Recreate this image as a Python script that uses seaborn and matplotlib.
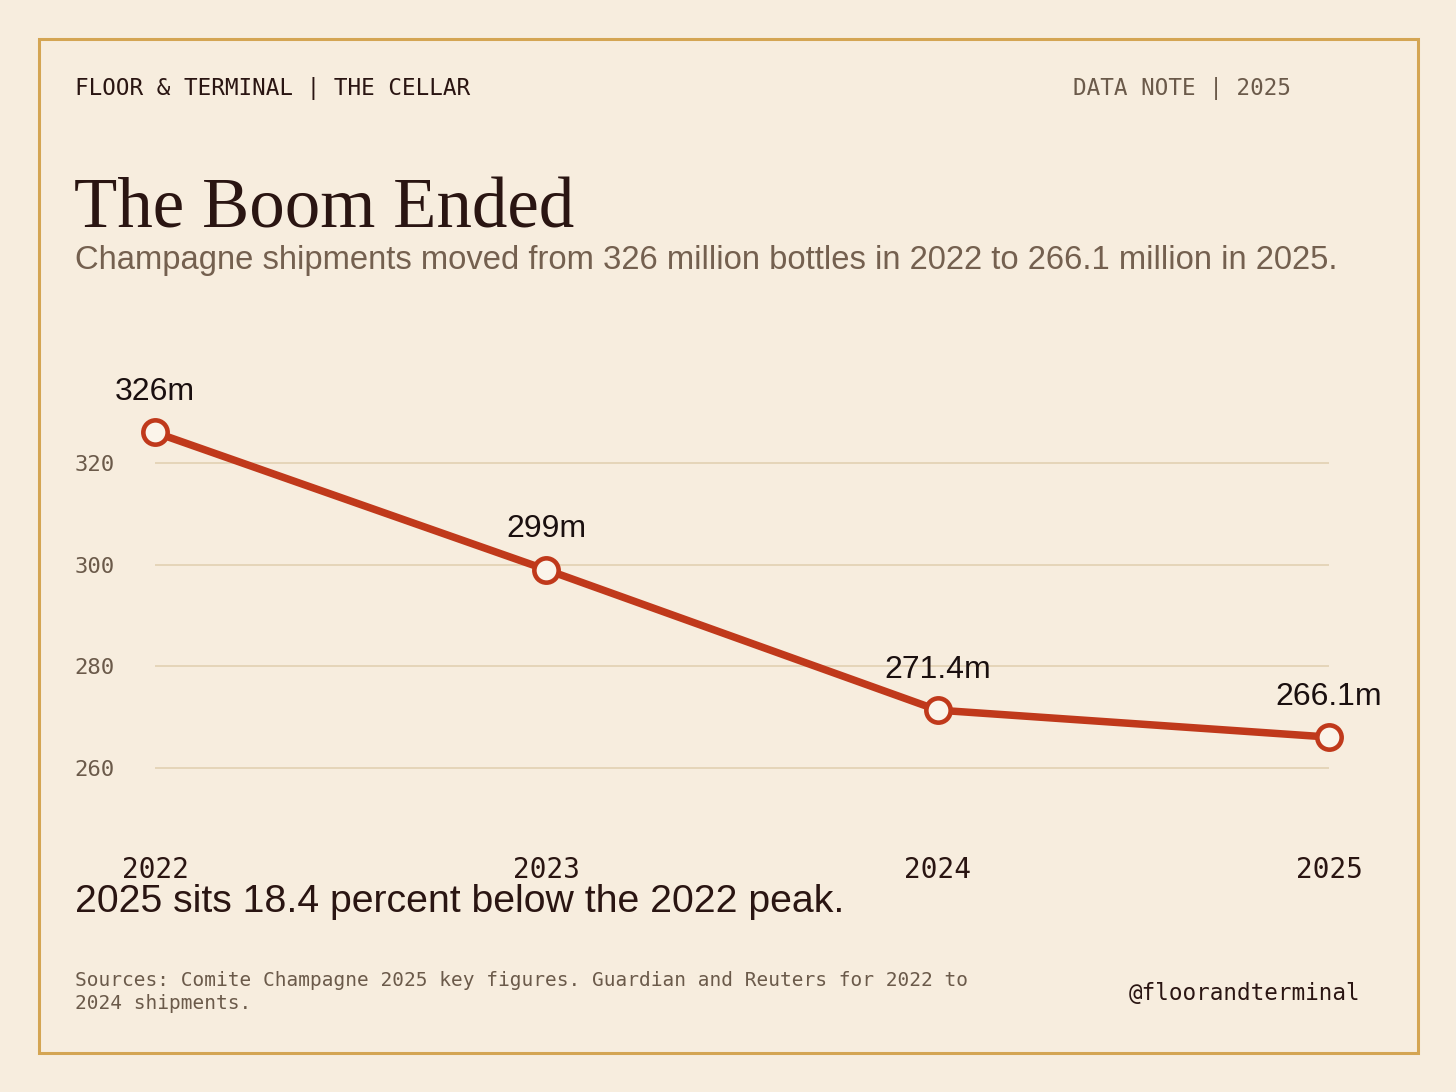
import matplotlib
matplotlib.use("Agg")
import matplotlib.pyplot as plt
import matplotlib.transforms as mtransforms
import seaborn as sns
import pandas as pd
from matplotlib.patches import Rectangle

years = [2022, 2023, 2024, 2025]
shipments = [326.0, 299.0, 271.4, 266.1]
point_labels = ["326m", "299m", "271.4m", "266.1m"]
y_ticks = [260, 280, 300, 320]

BG = "#F7EDDE"
RED = "#C0391B"
INK = "#2A1512"
MUTED = "#6B5A4A"
GRID = "#E4D3B6"
GOLD = "#D4A553"

sns.set_theme(style="white")
plt.rcParams["font.family"] = ["Liberation Sans", "DejaVu Sans"]

W, H = 1456, 1092
fig = plt.figure(figsize=(W / 100, H / 100), dpi=100, facecolor=BG)

def fx(px):
    return px / W

def fy(py):
    return 1 - py / H

# border
fig.patches.append(Rectangle((fx(39), fy(1053)), fx(1418) - fx(39), fy(39) - fy(1053),
                             transform=fig.transFigure, fill=False, edgecolor=GOLD,
                             linewidth=2.2, zorder=0))

# axes
left, right = 155, 1329
top, bottom = 412, 819
ax = fig.add_axes([fx(left), fy(bottom), fx(right) - fx(left), fy(top) - fy(bottom)])
ax.set_facecolor(BG)
df = pd.DataFrame({"year": years, "value": shipments})
sns.lineplot(data=df, x="year", y="value", ax=ax, color=RED, linewidth=5.4,
             marker="o", markersize=17.5, markerfacecolor="#FBF4EA",
             markeredgecolor=RED, markeredgewidth=3.3, clip_on=False, zorder=5)
ax.set_xlim(2022, 2025)
ax.set_ylim(250, 330)
for t in y_ticks:
    ax.axhline(t, color=GRID, linewidth=1.3, zorder=1)
ax.set_yticks(y_ticks)
ax.set_yticklabels([str(t) for t in y_ticks], family="DejaVu Sans Mono", fontsize=16, color=MUTED)
ax.set_xticks(years)
ax.set_xticklabels([str(y) for y in years], family="DejaVu Sans Mono", fontsize=20, color=INK)
shift = mtransforms.ScaledTranslation(-4 / 100, 0, fig.dpi_scale_trans)
for lbl in ax.get_xticklabels():
    lbl.set_transform(lbl.get_transform() + shift)
ax.tick_params(axis="y", length=0, pad=28.8)
ax.tick_params(axis="x", length=0, pad=27)
for s in ax.spines.values():
    s.set_visible(False)
ax.set_xlabel("")
ax.set_ylabel("")
ax.grid(False)

for x, v, lab in zip(years, shipments, point_labels):
    ax.annotate(lab, (x, v), xytext=(0, 29), textcoords="offset points",
                ha="center", va="center", fontsize=23, color="#1A0F0F", zorder=6)

# header
fig.text(fx(75), fy(89), "FLOOR & TERMINAL | THE CELLAR", family="DejaVu Sans Mono",
         fontsize=16.3, color=INK, va="center", ha="left")
fig.text(fx(1291), fy(89), "DATA NOTE | 2025", family="DejaVu Sans Mono",
         fontsize=16.3, color=MUTED, va="center", ha="right")

# title
fig.text(fx(74), fy(228), "The Boom Ended", family=["Liberation Serif", "DejaVu Serif"],
         fontsize=51, color=INK, va="baseline", ha="left")
fig.text(fx(75), fy(261), "Champagne shipments moved from 326 million bottles in 2022 to 266.1 million in 2025.",
         fontsize=23.6, color="#74604F", va="center", ha="left")

# callout
fig.text(fx(75), fy(902), "2025 sits 18.4 percent below the 2022 peak.",
         fontsize=28.3, color=INK, va="center", ha="left")

# footer
fig.text(fx(75), fy(992), "Sources: Comite Champagne 2025 key figures. Guardian and Reuters for 2022 to\n2024 shipments.",
         family="DejaVu Sans Mono", fontsize=14.0, color=MUTED, va="center", ha="left",
         linespacing=1.28)
fig.text(fx(1360), fy(993), "@floorandterminal", family="DejaVu Sans Mono",
         fontsize=16.3, color=INK, va="center", ha="right")

fig.savefig("out.png", dpi=100, facecolor=BG)
